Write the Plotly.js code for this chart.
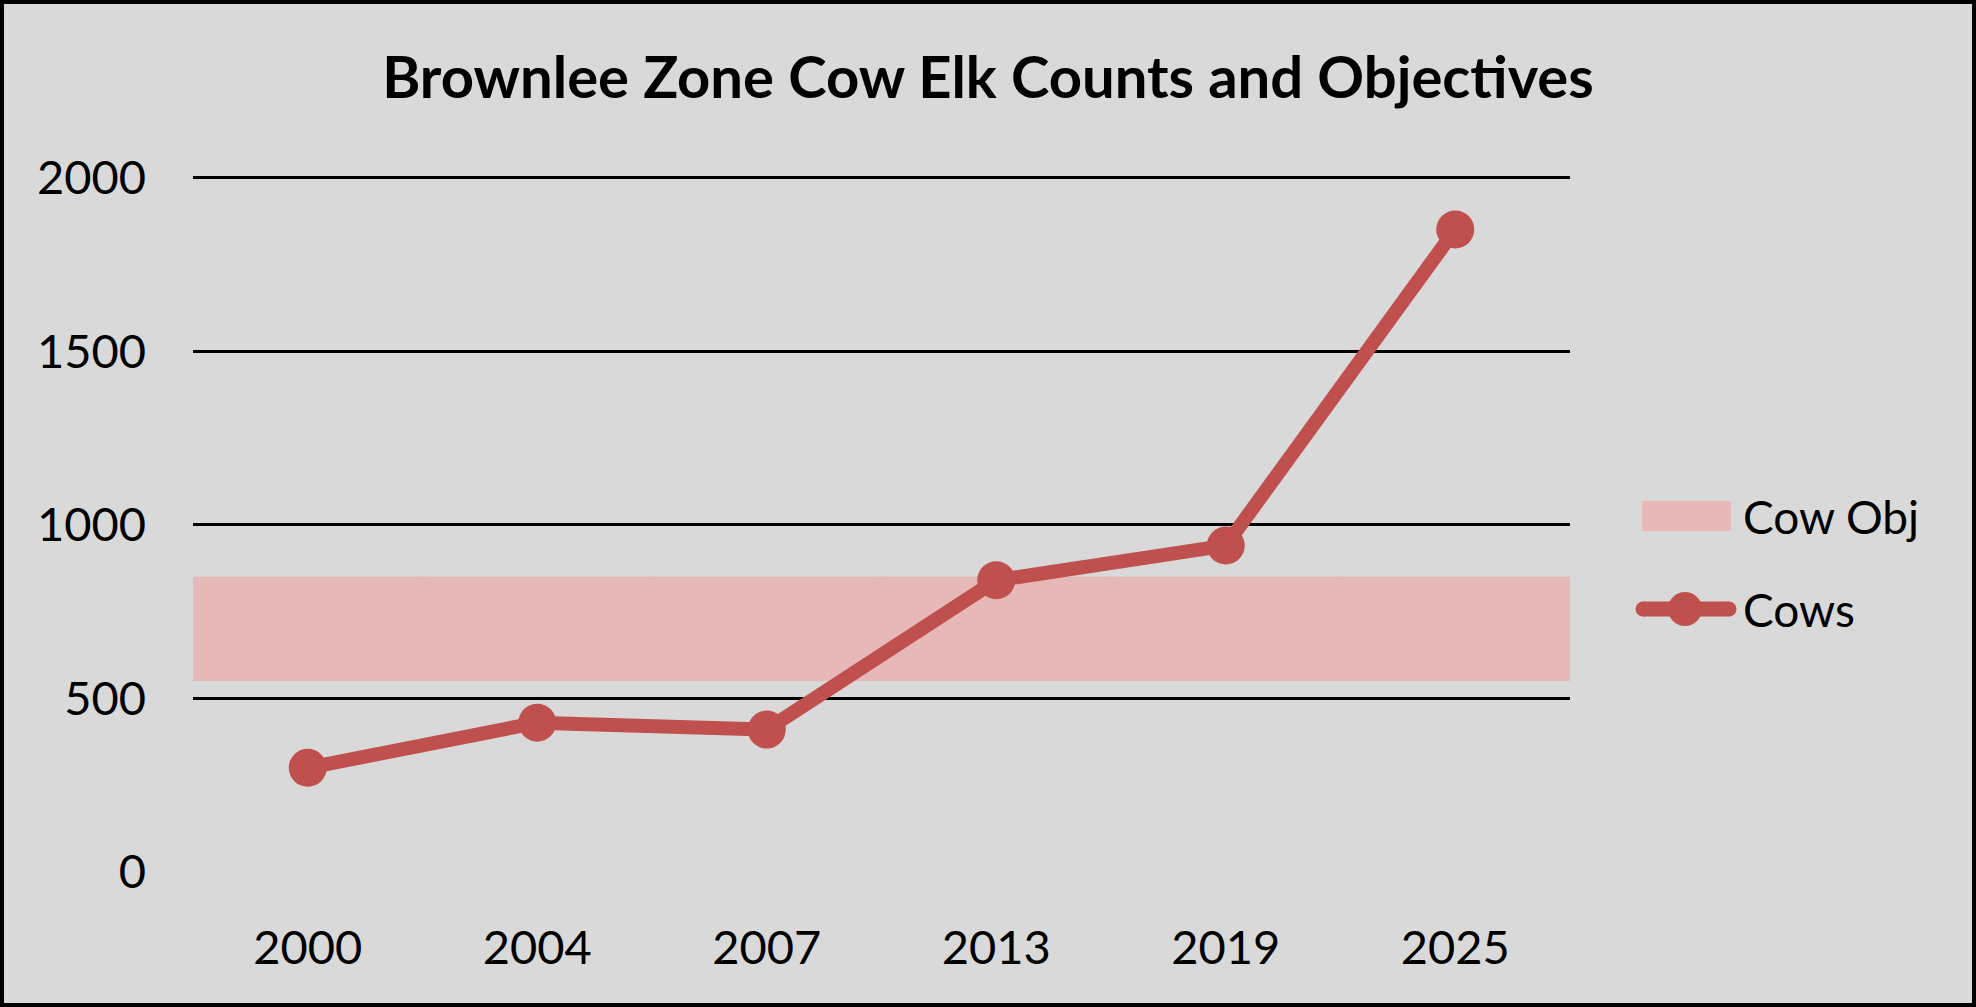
<!DOCTYPE html>
<html>
<head>
<meta charset="utf-8">
<script src="https://cdn.plot.ly/plotly-3.0.1.min.js"></script>
<style>
  html, body { margin: 0; padding: 0; background: #d9d9d9; }
  #chart { width: 1976px; height: 1007px; }
</style>
</head>
<body>
<div id="chart"></div>
<script>
/* Brownlee Zone cow elk counts vs. objective band */

const years = ['2000', '2004', '2007', '2013', '2019', '2025'];
const cows = [300, 430, 410, 840, 940, 1850];
const objLow = [550, 550, 550, 550, 550, 550];
const objHigh = [850, 850, 850, 850, 850, 850];
const yTicks = [0, 500, 1000, 1500, 2000];

const RED = '#c0504d';
const PINK = '#e6b9b8';
const BG = '#d9d9d9';
const FONT = 'Lato, "Open Sans", sans-serif';

const W = 1976, H = 1007;
const M = { l: 193, r: 406, t: 174, b: 135 };
const PW = W - M.l - M.r, PH = H - M.t - M.b;

// pixel -> paper helpers for the hand-drawn legend and frame
const px = x => (x - M.l) / PW;
const py = y => (H - M.b - y) / PH;

const traces = [
  {
    type: 'bar', name: 'Cow Obj', x: years,
    base: objLow, y: objHigh.map((v, i) => v - objLow[i]),
    width: 1.03, marker: { color: PINK, line: { width: 0 } },
    hoverinfo: 'skip',
  },
  {
    type: 'scatter', mode: 'lines+markers', name: 'Cows', x: years, y: cows,
    line: { color: RED, width: 14 },
    marker: { color: RED, size: 38 },
  },
];

const dot = (cx, cy, d) => ({
  type: 'circle', xref: 'paper', yref: 'paper',
  x0: px(cx - d / 2), x1: px(cx + d / 2), y0: py(cy + d / 2), y1: py(cy - d / 2),
  line: { width: 0 }, fillcolor: RED,
});

const shapes = [
  // frame round the whole chart
  { type: 'rect', xref: 'paper', yref: 'paper', x0: px(2), x1: px(W - 2), y0: py(2), y1: py(H - 2),
    line: { color: '#000', width: 4 }, fillcolor: 'rgba(0,0,0,0)', layer: 'above' },
  // legend: Cow Obj swatch
  { type: 'rect', xref: 'paper', yref: 'paper', x0: px(1642), x1: px(1731), y0: py(501), y1: py(531),
    line: { width: 0 }, fillcolor: PINK },
  // legend: Cows line (round ends) + marker
  { type: 'line', xref: 'paper', yref: 'paper', x0: px(1643), x1: px(1729), y0: py(609), y1: py(609),
    line: { color: RED, width: 15 } },
  dot(1643, 609, 15), dot(1729, 609, 15), dot(1685, 609, 34),
];

const annotations = [
  { xref: 'paper', yref: 'paper', x: px(1741), y: py(516), text: 'Cow Obj', showarrow: false,
    xanchor: 'left', yanchor: 'middle', font: { family: FONT, size: 46, color: '#000' } },
  { xref: 'paper', yref: 'paper', x: px(1741), y: py(609), text: 'Cows', showarrow: false,
    xanchor: 'left', yanchor: 'middle', font: { family: FONT, size: 46, color: '#000' } },
];

const layout = {
  width: W, height: H,
  paper_bgcolor: BG, plot_bgcolor: BG,
  font: { family: FONT, size: 46, color: '#000' },
  margin: M,
  showlegend: false,
  title: {
    text: '<b>Brownlee Zone Cow Elk Counts and Objectives</b>',
    font: { family: FONT, size: 58, color: '#000' },
    x: 0.5, xref: 'container', xanchor: 'center',
    y: 1 - 78 / H, yref: 'container', yanchor: 'middle',
  },
  xaxis: {
    type: 'category', range: [-0.5, 5.5], fixedrange: true,
    showgrid: false, zeroline: false, showline: false, ticks: '',
    ticklabelstandoff: 44, tickfont: { family: FONT, size: 47 },
  },
  yaxis: {
    range: [0, 2010], tickvals: yTicks, fixedrange: true,
    showgrid: true, gridcolor: '#000', gridwidth: 3,
    zeroline: true, zerolinecolor: BG, zerolinewidth: 5,
    showline: false, ticks: '',
    ticklabelstandoff: 46, tickfont: { family: FONT, size: 47 },
  },
  shapes, annotations,
};

Plotly.newPlot('chart', traces, layout, { staticPlot: true, displayModeBar: false });
</script>
</body>
</html>
